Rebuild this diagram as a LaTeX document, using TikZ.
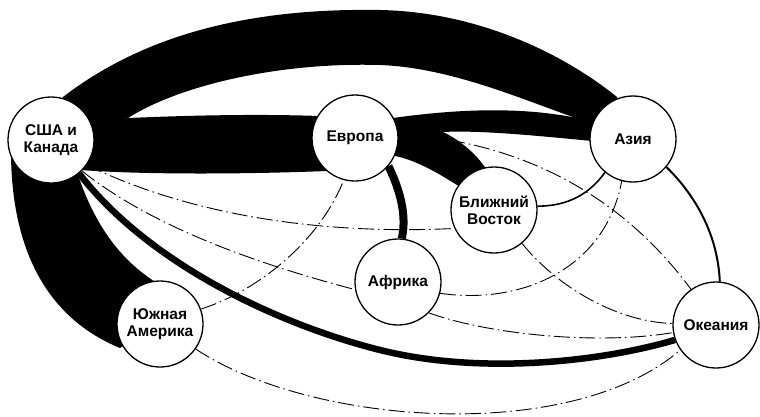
\documentclass[tikz,border=0pt]{standalone}
\usepackage{fontspec}
\setmainfont{Liberation Sans}
\usetikzlibrary{backgrounds}
\begin{document}
\begin{tikzpicture}[x=1pt,y=-1pt,
  region/.style={circle,draw,fill=white,line width=1.3pt,minimum size=86pt,inner sep=0pt,align=center,font=\bfseries\fontsize{15.5}{17}\selectfont},
  faded/.style={line width=0.9pt,dash pattern=on 16pt off 4pt on 1.5pt off 4pt},
  fine/.style={line width=1.6pt},
  band/.style={fill=black}]
\useasboundingbox (0,0) rectangle (760,416);
\node[region] (us) at (51,140) {США и\\Канада};
\node[region] (eu) at (355,138) {Европа};
\node[region] (as) at (633,139) {Азия};
\node[region] (bv) at (494,210) {Ближний\\Восток};
\node[region] (af) at (398,282) {Африка};
\node[region] (sa) at (160,324) {Южная\\Америка};
\node[region] (oc) at (716,325) {Океания};
\begin{pgfonlayer}{background}
% faded thin flows
\draw[faded] (us.-35) .. controls (190,215) and (320,235) .. (bv.205);
\draw[faded] (us.-45) .. controls (150,225) and (250,262) .. (af.190);
\draw[faded] (sa.20) .. controls (260,290) and (320,240) .. (eu.-105);
\draw[faded] (sa.-35) .. controls (310,425) and (570,445) .. (oc.-145);
\draw[faded] (af.-45) .. controls (490,335) and (600,345) .. (oc.190);
\draw[faded] (af.-15) .. controls (520,305) and (605,270) .. (as.-105);
\draw[faded] (eu.5) .. controls (500,140) and (610,180) .. (oc.125);
\draw[faded] (bv.-50) .. controls (560,290) and (620,322) .. (oc.178);
% solid thin flows
\draw[fine] (as.-130) .. controls (585,200) and (560,206) .. (bv.5);
\draw[line width=2pt] (as.-40) .. controls (700,200) and (718,240) .. (oc.85);
% thick flows
\draw[line width=8pt] (eu.-40) .. controls (400,190) and (407,215) .. (af.85);
\draw[line width=6.5pt] (us.-50) .. controls (150,265) and (280,325) .. (380,350)
      .. controls (480,375) and (600,362) .. (oc.200);
% USA - Asia band
\fill[band] (55,110) -- (63,97) .. controls (150,30) and (260,8) .. (380,10)
      .. controls (480,12) and (565,55) .. (617,97) -- (620,125) -- (600,126)
      .. controls (540,108) and (460,68) .. (380,65)
      .. controls (280,62) and (180,85) .. (128,118) -- (85,128) -- cycle;
% USA - Europe band
\fill[band] (85,125) -- (128,118) .. controls (200,115) and (260,114) .. (320,116)
      -- (345,140) -- (327,171) .. controls (250,174) and (150,175) .. (80,170)
      -- (60,150) -- cycle;
% Europe - Asia and Middle East band
\fill[band] (380,125) -- (393,118) .. controls (450,110) and (500,108) .. (545,113)
      .. controls (570,116) and (590,120) .. (610,125) -- (610,140) -- (592,141)
      .. controls (540,136) and (480,130) .. (443,132)
      .. controls (460,140) and (478,155) .. (488,172) -- (480,190) -- (457,185)
      .. controls (430,168) and (410,158) .. (390,155) -- cycle;
% USA - South America band
\fill[band] (40,150) -- (11,155) .. controls (12,240) and (40,315) .. (120,348)
      -- (150,330) -- (157,283) .. controls (120,260) and (95,225) .. (78,175)
      -- cycle;
\end{pgfonlayer}
\end{tikzpicture}
\end{document}
